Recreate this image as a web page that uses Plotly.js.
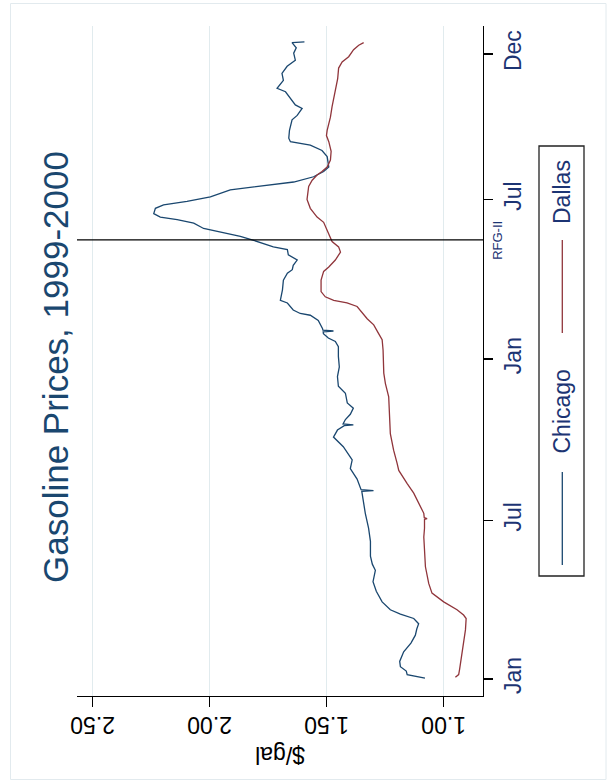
<!DOCTYPE html>
<html>
<head>
<meta charset="utf-8">
<script src="https://cdn.plot.ly/plotly-3.0.1.min.js"></script>
<style>html,body{margin:0;padding:0;background:#fff;}#chart{width:610px;height:783px;}</style>
</head>
<body>
<div id="chart"></div>
<script>
// ---- data ----
const chicagoDates = ["1999-01-02","1999-01-04","1999-01-06","1999-01-10","1999-01-15","1999-01-21","1999-02-01","1999-02-11","1999-02-20","1999-02-27","1999-03-05","1999-03-11","1999-03-16","1999-03-21","1999-03-30","1999-04-11","1999-04-22","1999-05-05","1999-05-12","1999-05-21","1999-06-07","1999-06-22","1999-07-09","1999-07-24","1999-08-03","1999-08-04","1999-08-05","1999-08-17","1999-08-29","1999-09-08","1999-09-23","1999-10-04","1999-10-12","1999-10-17","1999-10-18","1999-10-19","1999-10-24","1999-10-30","1999-11-06","1999-11-12","1999-11-23","1999-12-01","1999-12-12","1999-12-23","2000-01-04","2000-01-15","2000-01-21","2000-01-25","2000-01-30","2000-02-01","2000-02-02","2000-02-03","2000-02-05","2000-02-14","2000-02-20","2000-02-22","2000-02-26","2000-03-05","2000-03-08","2000-03-20","2000-03-31","2000-04-08","2000-04-12","2000-04-17","2000-04-23","2000-04-29","2000-05-05","2000-05-08","2000-05-12","2000-05-16","2000-05-20","2000-05-23","2000-05-29","2000-06-04","2000-06-08","2000-06-11","2000-06-15","2000-06-21","2000-06-25","2000-06-29","2000-07-04","2000-07-12","2000-07-16","2000-07-21","2000-07-27","2000-08-02","2000-08-07","2000-08-19","2000-08-26","2000-09-01","2000-09-05","2000-09-09","2000-09-18","2000-09-30","2000-10-05","2000-10-13","2000-10-17","2000-10-25","2000-11-01","2000-11-05","2000-11-14","2000-11-22","2000-11-30","2000-12-07","2000-12-15","2000-12-21","2000-12-27","2000-12-28"];
const chicagoPrice = [1.080,1.120,1.156,1.160,1.185,1.188,1.171,1.140,1.121,1.115,1.107,1.128,1.185,1.228,1.263,1.288,1.302,1.292,1.305,1.313,1.313,1.321,1.335,1.344,1.350,1.300,1.353,1.370,1.399,1.391,1.429,1.471,1.454,1.425,1.386,1.430,1.420,1.399,1.386,1.412,1.420,1.450,1.454,1.446,1.450,1.450,1.463,1.493,1.514,1.515,1.471,1.516,1.518,1.536,1.570,1.613,1.643,1.668,1.698,1.689,1.685,1.668,1.647,1.643,1.626,1.664,1.668,1.728,1.769,1.819,1.869,1.926,2.026,2.068,2.139,2.211,2.239,2.232,2.197,2.097,1.997,1.912,1.783,1.641,1.556,1.513,1.491,1.498,1.520,1.570,1.655,1.662,1.659,1.648,1.626,1.605,1.634,1.655,1.676,1.712,1.685,1.691,1.669,1.634,1.641,1.630,1.648,1.595];

const dallasDates = ["1999-01-03","1999-01-06","1999-01-12","1999-01-26","1999-02-11","1999-02-26","1999-03-11","1999-03-15","1999-03-21","1999-03-30","1999-04-09","1999-04-20","1999-05-09","1999-05-24","1999-06-12","1999-06-22","1999-07-02","1999-07-03","1999-07-04","1999-07-09","1999-07-20","1999-08-01","1999-08-12","1999-08-22","1999-08-27","1999-09-04","1999-09-19","1999-10-08","1999-10-24","1999-11-19","1999-12-04","1999-12-16","2000-01-11","2000-01-23","2000-01-30","2000-02-09","2000-02-16","2000-03-01","2000-03-05","2000-03-08","2000-03-12","2000-03-18","2000-03-31","2000-04-10","2000-04-15","2000-04-23","2000-05-02","2000-05-08","2000-05-14","2000-05-23","2000-06-05","2000-06-11","2000-06-21","2000-07-01","2000-07-16","2000-07-23","2000-07-29","2000-08-02","2000-08-07","2000-08-15","2000-08-25","2000-09-05","2000-09-12","2000-09-18","2000-10-03","2000-10-15","2000-11-03","2000-11-16","2000-11-28","2000-12-05","2000-12-11","2000-12-19","2000-12-24","2000-12-27"];
const dallasPrice = [0.950,0.936,0.932,0.925,0.915,0.907,0.904,0.915,0.943,1.000,1.050,1.064,1.078,1.082,1.085,1.082,1.082,1.071,1.083,1.085,1.107,1.128,1.156,1.178,1.192,1.199,1.214,1.228,1.231,1.235,1.249,1.256,1.259,1.263,1.278,1.299,1.327,1.370,1.413,1.470,1.506,1.524,1.524,1.513,1.491,1.463,1.441,1.449,1.477,1.491,1.513,1.541,1.570,1.584,1.577,1.562,1.541,1.520,1.498,1.484,1.481,1.491,1.501,1.498,1.484,1.477,1.463,1.453,1.449,1.434,1.406,1.385,1.363,1.342];

const priceTicks = [1.0, 1.5, 2.0, 2.5];
const priceTickText = ["1.00", "1.50", "2.00", "2.50"];
const dateTicks = ["1999-01-01", "1999-07-01", "2000-01-01", "2000-07-01", "2000-12-14"];
const dateTickText = ["Jan", "Jul", "Jan", "Jul", "Dec"];
const rfgDate = "2000-05-16";
const rfgLabel = "RFG-II";
const seriesNames = ["Chicago", "Dallas"];
const titleText = "Gasoline Prices, 1999-2000";
const axisTitle = "$/gal";

// ---- layout helpers (pixel -> paper) ----
const W = 610, H = 783;
const M = {l: 77, r: 127, t: 26, b: 87};
const PW = W - M.l - M.r, PH = H - M.t - M.b;
const px = x => (x - M.l) / PW;
const py = y => (H - M.b - y) / PH;

const FONT = "Liberation Sans, Arial, sans-serif";
const NAVY = "#1a476f";
const MAROON = "#90353b";
const LABEL = "#1c3473";

const traces = [
  {x: chicagoPrice, y: chicagoDates, type: "scatter", mode: "lines", name: seriesNames[0],
   line: {color: NAVY, width: 1.3}, hoverinfo: "skip"},
  {x: dallasPrice, y: dallasDates, type: "scatter", mode: "lines", name: seriesNames[1],
   line: {color: MAROON, width: 1.3}, hoverinfo: "skip"}
];

const layout = {
  width: W, height: H,
  margin: M,
  paper_bgcolor: "#ffffff", plot_bgcolor: "#ffffff",
  showlegend: false,
  font: {family: FONT, size: 23, color: "#000"},
  xaxis: {
    range: [2.567, 0.832], autorange: false,
    tickmode: "array", tickvals: priceTicks, ticktext: priceTickText,
    tickangle: 180, ticks: "outside", ticklen: 10, tickwidth: 1.3, tickcolor: "#000",
    ticklabelstandoff: 5,
    showline: true, linecolor: "#000", linewidth: 1.3,
    showgrid: true, gridcolor: "#e1ebee", gridwidth: 1, zeroline: false,
    tickfont: {family: FONT, size: 23, color: "#000"}
  },
  yaxis: {
    type: "date", side: "right",
    range: ["1998-12-12 14:00", "2001-01-15"], autorange: false,
    tickmode: "array", tickvals: dateTicks, ticktext: dateTickText,
    tickangle: -90, ticks: "outside", ticklen: 9, tickwidth: 1.3, tickcolor: "#000",
    showline: true, linecolor: "#000", linewidth: 1.3,
    showgrid: false, zeroline: false,
    tickfont: {family: FONT, size: 23, color: LABEL}
  },
  shapes: [
    {type: "rect", xref: "paper", yref: "paper", x0: px(10.5), x1: px(606), y0: py(3.5), y1: py(779.5),
     line: {color: "#e2eaee", width: 1}, fillcolor: "rgba(0,0,0,0)", layer: "below"},
    {type: "line", xref: "paper", yref: "y", x0: 0, x1: 1, y0: rfgDate, y1: rfgDate,
     line: {color: "#000", width: 1.3}},
    {type: "rect", xref: "paper", yref: "paper", x0: px(539), x1: px(584), y0: py(576), y1: py(146),
     line: {color: "#222", width: 1.3}, fillcolor: "#fff"},
    {type: "line", xref: "paper", yref: "paper", x0: px(562.3), x1: px(562.3), y0: py(565), y1: py(472),
     line: {color: NAVY, width: 1.3}},
    {type: "line", xref: "paper", yref: "paper", x0: px(562.3), x1: px(562.3), y0: py(333), y1: py(240),
     line: {color: MAROON, width: 1.3}}
  ],
  annotations: [
    {text: titleText, textangle: -90, xref: "paper", yref: "paper", x: px(55), y: py(367),
     xanchor: "center", yanchor: "middle", showarrow: false,
     font: {family: FONT, size: 35, color: NAVY}},
    {text: axisTitle, textangle: 180, xref: "paper", yref: "paper", x: px(280), y: py(755),
     xanchor: "center", yanchor: "middle", showarrow: false,
     font: {family: FONT, size: 23, color: "#000"}},
    {text: rfgLabel, textangle: -90, xref: "paper", yref: "y", x: px(498), y: rfgDate,
     xanchor: "center", yanchor: "middle", showarrow: false,
     font: {family: FONT, size: 13, color: LABEL}},
    {text: seriesNames[0], textangle: -90, xref: "paper", yref: "paper", x: px(562), y: py(411.5),
     xanchor: "center", yanchor: "middle", showarrow: false,
     font: {family: FONT, size: 23, color: LABEL}},
    {text: seriesNames[1], textangle: -90, xref: "paper", yref: "paper", x: px(562), y: py(192),
     xanchor: "center", yanchor: "middle", showarrow: false,
     font: {family: FONT, size: 23, color: LABEL}}
  ]
};

Plotly.newPlot("chart", traces, layout, {displayModeBar: false, staticPlot: true});
</script>
</body>
</html>
